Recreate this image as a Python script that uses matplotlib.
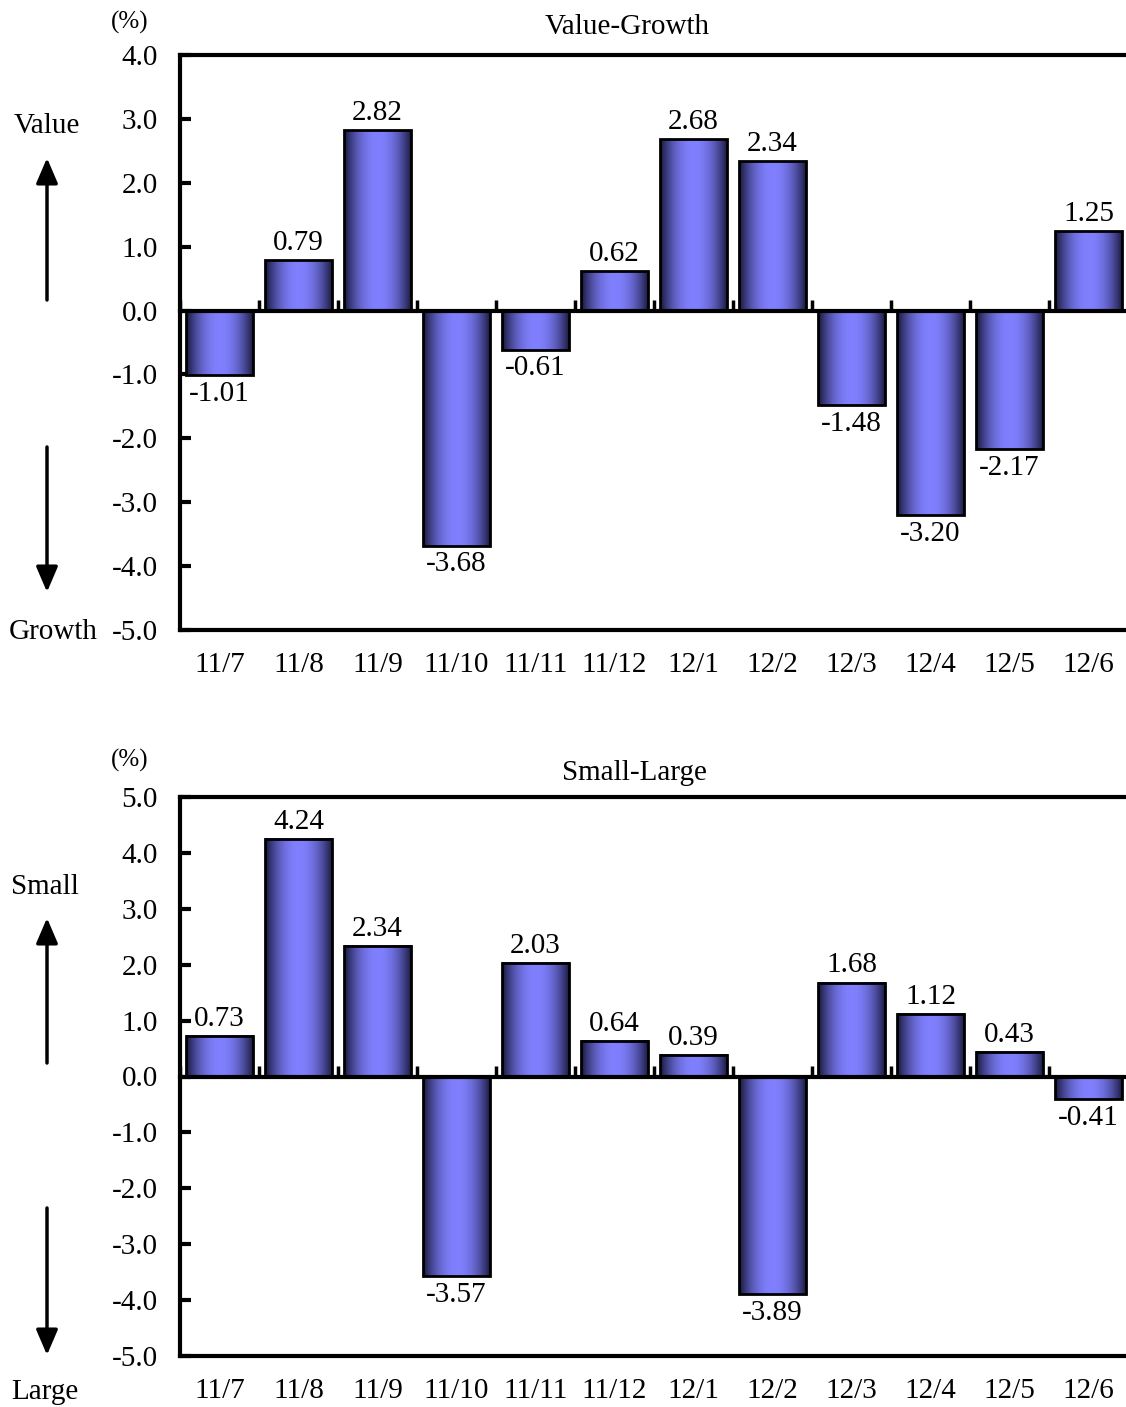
import numpy as np
import matplotlib
matplotlib.use("Agg")
import matplotlib.pyplot as plt
from matplotlib.ticker import FormatStrFormatter, MultipleLocator

plt.rcParams['font.family'] = ['Liberation Serif', 'DejaVu Serif']
plt.rcParams['axes.unicode_minus'] = False

months = ['11/7', '11/8', '11/9', '11/10', '11/11', '11/12',
          '12/1', '12/2', '12/3', '12/4', '12/5', '12/6']
value_growth = [-1.01, 0.79, 2.82, -3.68, -0.61, 0.62,
                2.68, 2.34, -1.48, -3.20, -2.17, 1.25]
small_large = [0.73, 4.24, 2.34, -3.57, 2.03, 0.64,
               0.39, -3.89, 1.68, 1.12, 0.43, -0.41]

W, H = 1126, 1407
FS = 21


def fx(px):
    return px / W


def fy(py):
    return 1 - py / H


# horizontal gradient used to fill every bar
edge_c = np.array([0x18, 0x18, 0x3c]) / 255
mid_c = np.array([0x80, 0x80, 0xff]) / 255
t = np.abs(np.linspace(-1, 1, 64))
f = t ** 2.0
grad = (mid_c[None, :] * (1 - f[:, None]) + edge_c[None, :] * f[:, None])[None, :, :]


def draw_panel(ax, vals, ymin, ymax):
    x = np.arange(len(months))
    bars = ax.bar(x, vals, width=0.85, facecolor='none', edgecolor='black',
                  linewidth=2, zorder=3)
    for b, v in zip(bars, vals):
        x0, w = b.get_x(), b.get_width()
        y0, y1 = sorted([0, v])
        ax.imshow(grad, extent=[x0, x0 + w, y0, y1], aspect='auto',
                  interpolation='bilinear', zorder=2)
        off = 3 if v > 0 else -4
        ax.annotate(f"{v:.2f}", (x0 + w / 2, v), xytext=(0, off),
                    textcoords='offset points', ha='center',
                    va='bottom' if v > 0 else 'top', fontsize=FS, zorder=4)
    ax.set_xlim(-0.5, len(months) - 0.5)
    ax.set_ylim(ymin, ymax)
    ax.yaxis.set_major_locator(MultipleLocator(1.0))
    ax.yaxis.set_major_formatter(FormatStrFormatter('%.1f'))
    ax.tick_params(axis='y', direction='in', length=8, width=3,
                   labelsize=FS, pad=16)
    # category axis sits on the zero line
    ax.spines['bottom'].set_position(('data', 0))
    ax.spines['bottom'].set_zorder(5)
    ax.set_xticks(np.arange(len(months) + 1) - 0.5)
    ax.set_xticklabels([])
    ax.tick_params(axis='x', direction='in', length=8, width=2.5)
    for i, m in enumerate(months):
        ax.annotate(m, (i, 0), xycoords=ax.get_xaxis_transform(),
                    xytext=(0, -25.5), textcoords='offset points',
                    ha='center', va='center', fontsize=FS)
    for s in ['top', 'left', 'bottom']:
        ax.spines[s].set_linewidth(3)
    ax.spines['right'].set_visible(False)
    ax.plot([0, 1], [0, 0], transform=ax.transAxes, color='black', lw=3,
            clip_on=False, zorder=5)


fig = plt.figure(figsize=(W / 100, H / 100), dpi=100)
ax1 = fig.add_axes([fx(180), fy(630), fx(948), 575 / H])
ax2 = fig.add_axes([fx(180), fy(1356), fx(948), 559 / H])

draw_panel(ax1, value_growth, -5.0, 4.0)
draw_panel(ax2, small_large, -5.0, 5.0)

fig.text(fx(627), fy(27), 'Value-Growth', ha='center', va='center', fontsize=FS)
fig.text(fx(634), fy(773), 'Small-Large', ha='center', va='center', fontsize=FS)
fig.text(fx(130), fy(22), '(%)', ha='center', va='center', fontsize=18)
fig.text(fx(130), fy(760), '(%)', ha='center', va='center', fontsize=18)

fig.text(fx(47), fy(126), 'Value', ha='center', va='center', fontsize=FS)
fig.text(fx(53), fy(632), 'Growth', ha='center', va='center', fontsize=FS)
fig.text(fx(45), fy(887), 'Small', ha='center', va='center', fontsize=FS)
fig.text(fx(45), fy(1392), 'Large', ha='center', va='center', fontsize=FS)

arrow = dict(arrowstyle='-|>,head_length=0.7,head_width=0.3', lw=2.5,
             color='black', mutation_scale=22, shrinkA=0, shrinkB=0)
for y_from, y_to in [(300, 158), (447, 592), (1063, 918), (1208, 1355)]:
    fig.add_artist(plt.Annotation('', xy=(fx(47), fy(y_to)),
                                  xytext=(fx(47), fy(y_from)),
                                  xycoords='figure fraction',
                                  textcoords='figure fraction',
                                  arrowprops=arrow))

fig.savefig('out.png', dpi=100)
